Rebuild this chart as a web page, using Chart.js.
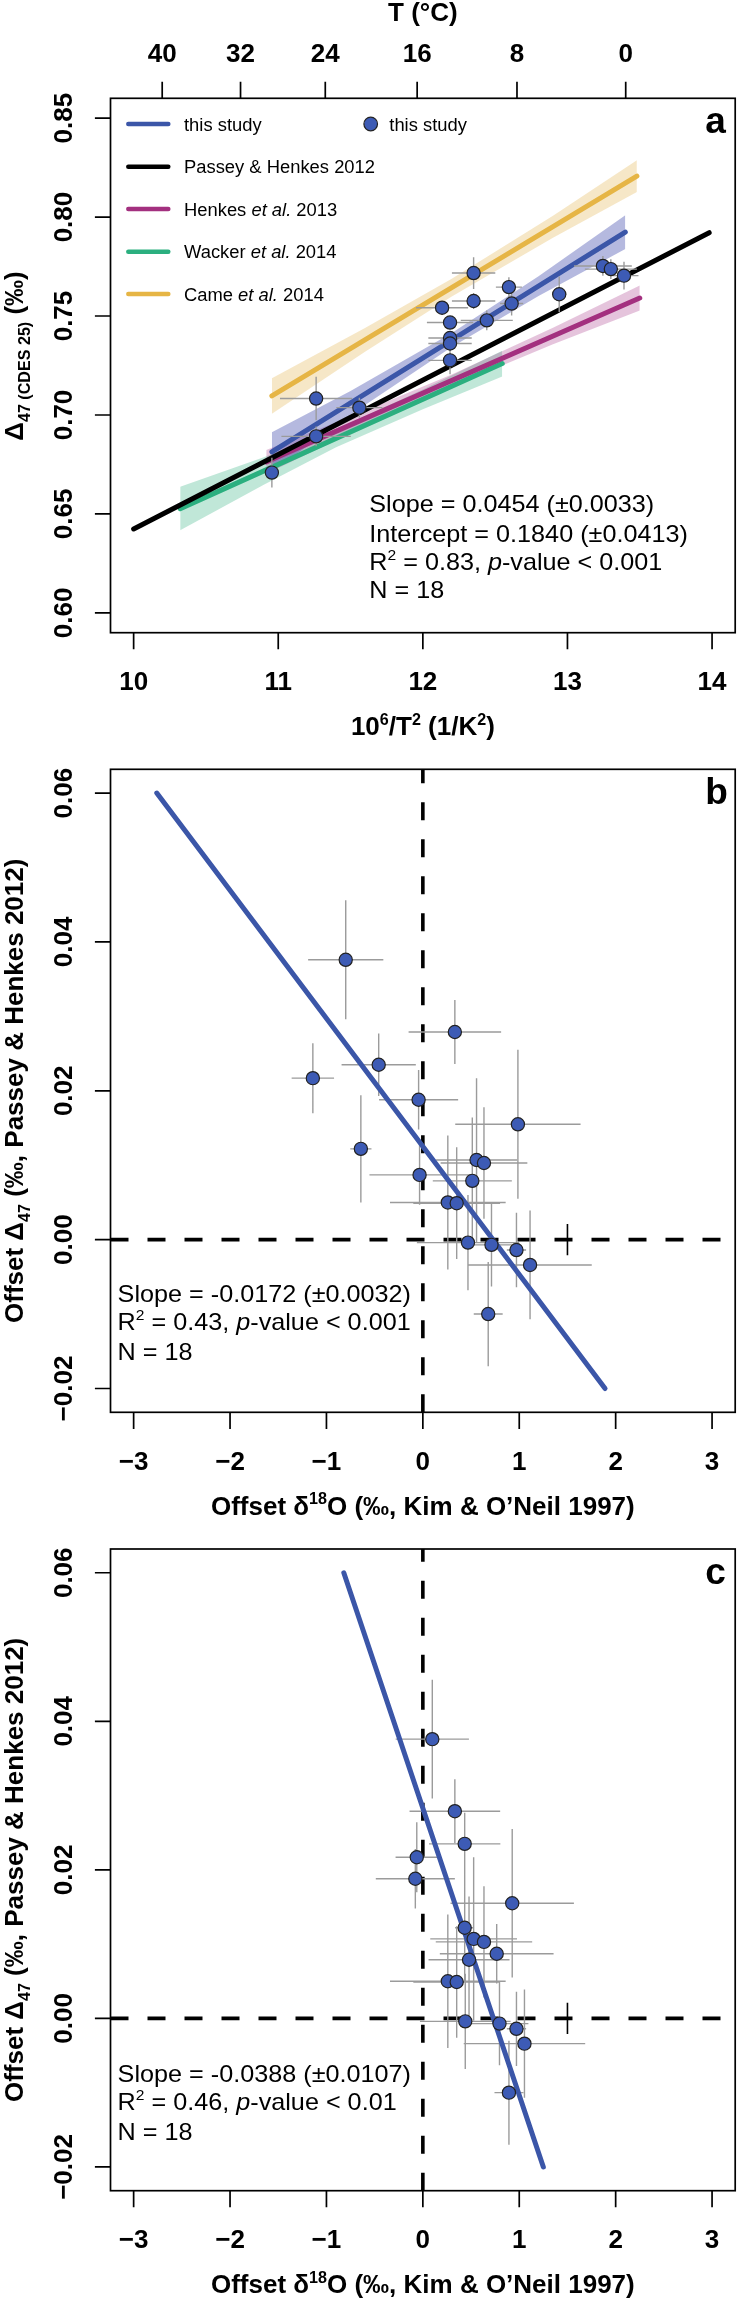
<!DOCTYPE html>
<html>
<head>
<meta charset="utf-8">
<script src="https://cdn.jsdelivr.net/npm/chart.js@4.4.0/dist/chart.umd.min.js"></script>
<style>
  html, body { margin: 0; padding: 0; background: #fff; }
  #wrap { position: relative; width: 743px; height: 2300px; }
  canvas { position: absolute; left: 0; }
</style>
</head>
<body>
<div id="wrap">
  <canvas id="panelA" width="743" height="760" style="top:0px"></canvas>
  <canvas id="panelB" width="743" height="760" style="top:760px"></canvas>
  <canvas id="panelC" width="743" height="780" style="top:1520px"></canvas>
</div>
<script>
// ---- tick labels ----
var tempTicks = [40, 32, 24, 16, 8, 0];
var invTTicks = [10, 11, 12, 13, 14];
var d47Ticks = [0.60, 0.65, 0.70, 0.75, 0.80, 0.85];
var offsetXTicks = [-3, -2, -1, 0, 1, 2, 3];
var offsetYTicks = [-0.02, 0.00, 0.02, 0.04, 0.06];

// ---- panel a: this study samples ----
var invT2 = [12.351, 12.595, 12.351, 12.614, 12.943, 13.245, 13.300, 13.391, 12.133, 12.188, 12.442, 12.188, 12.188, 12.188, 11.262, 11.561, 11.262, 10.956];
var d47 = [0.7717, 0.7646, 0.7576, 0.7563, 0.7610, 0.7753, 0.7737, 0.7704, 0.7542, 0.7467, 0.7478, 0.7389, 0.7361, 0.7276, 0.7083, 0.7037, 0.6892, 0.6709];
var invT2Err = [0.15, 0.09, 0.15, 0.08, 0.05, 0.20, 0.18, 0.10, 0.18, 0.16, 0.18, 0.15, 0.15, 0.15, 0.25, 0.16, 0.24, 0.02];
var d47Err = [0.008, 0.005, 0.004, 0.006, 0.009, 0.005, 0.005, 0.007, 0.003, 0.003, 0.005, 0.003, 0.003, 0.007, 0.011, 0.005, 0.005, 0.0075];

// ---- panel a: calibration lines ----
var studyLineX = [10.956, 13.40],  studyLineY = [0.6813, 0.7924];
var passeyLineX = [10.0, 13.98],   passeyLineY = [0.6424, 0.7921];
var henkesLineX = [10.917, 13.50], henkesLineY = [0.6763, 0.7591];
var wackerLineX = [10.322, 12.549], wackerLineY = [0.6527, 0.7260];
var cameLineX = [10.956, 13.48],   cameLineY = [0.7096, 0.8207];

// ---- panel a: confidence bands ----
var studyBandX = [10.956, 11.5, 12.2, 12.8, 13.40];
var studyBandHi = [0.6913, 0.7121, 0.7414, 0.7701, 0.8009];
var studyBandLo = [0.6713, 0.7001, 0.7344, 0.7601, 0.7839];
var cameBandX = [10.956, 11.6, 12.2, 12.9, 13.48];
var cameBandHi = [0.7186, 0.7439, 0.7688, 0.8006, 0.8287];
var cameBandLo = [0.7006, 0.7319, 0.7598, 0.7896, 0.8127];
var henkesBandX = [10.917, 11.6, 12.2, 12.9, 13.50];
var henkesBandHi = [0.6823, 0.7022, 0.7204, 0.7441, 0.7654];
var henkesBandLo = [0.6703, 0.6942, 0.7144, 0.7357, 0.7528];
var wackerBandX = [10.322, 10.9, 11.4, 12.0, 12.549];
var wackerBandHi = [0.6637, 0.6787, 0.6927, 0.7129, 0.7325];
var wackerBandLo = [0.6417, 0.6647, 0.6837, 0.7029, 0.7195];

// ---- panels b, c: offsets ----
var offD47 = [0.0376, 0.0279, 0.0235, 0.0217, 0.0188, 0.0155, 0.0122, 0.0107, 0.0103, 0.0087, 0.0079, 0.0050, 0.0049, -0.0004, -0.0007, -0.0014, -0.0034, -0.0100];
var offD47Err = [0.008, 0.0043, 0.0042, 0.0047, 0.004, 0.010, 0.0072, 0.011, 0.0075, 0.004, 0.0085, 0.009, 0.0075, 0.0064, 0.0056, 0.005, 0.0073, 0.007];
var offD18OB = [-0.80, 0.332, -0.458, -1.141, -0.044, 0.986, -0.643, 0.557, 0.634, -0.034, 0.513, 0.259, 0.351, 0.468, 0.712, 0.971, 1.112, 0.678];
var offD18OBErr = [0.39, 0.48, 0.385, 0.22, 0.41, 0.65, 0.11, 0.42, 0.45, 0.52, 0.41, 0.60, 0.45, 0.53, 0.30, 0.10, 0.64, 0.15];
var offD18OC = [0.098, 0.332, 0.434, -0.063, -0.078, 0.927, 0.434, 0.527, 0.634, 0.766, 0.479, 0.259, 0.351, 0.440, 0.795, 0.971, 1.054, 0.893];
var offD18OCErr = [0.38, 0.47, 0.37, 0.22, 0.41, 0.64, 0.10, 0.45, 0.50, 0.59, 0.42, 0.60, 0.45, 0.47, 0.30, 0.10, 0.63, 0.15];
var fitBX = [-2.76, 1.89], fitBY = [0.06, -0.02];
var fitCX = [-0.82, 1.25], fitCY = [0.06, -0.02];
var typErrX = [1.5, 1.5], typErrY = [-0.0021, 0.0021];

var FONT = '"Liberation Sans", Arial, Helvetica, sans-serif';
var BLUE = '#3B56A8', PT_FILL = '#3D5BB5', MAGENTA = '#A3307F', GREEN = '#2BAF7F', GOLD = '#E6B545';

function pts(xs, ys) { return xs.map(function (x, i) { return { x: x, y: ys[i] }; }); }
function sup(t, s) { return { t: t, size: s * 0.62, dy: -s * 0.4 }; }
function sub(t, s) { return { t: t, size: s * 0.62, dy: s * 0.28 }; }

function segFont(s, o) {
  var bold = s.bold !== undefined ? s.bold : o.bold;
  return (s.italic ? 'italic ' : '') + (bold ? 'bold ' : '') + (s.size || o.size) + 'px ' + FONT;
}

function drawRich(ctx, segs, x, y, o) {
  ctx.save();
  ctx.translate(x, y);
  if (o.rotate) ctx.rotate(-Math.PI / 2);
  ctx.scale(o.stretch || 1, 1);
  ctx.textBaseline = 'alphabetic';
  ctx.textAlign = 'left';
  ctx.fillStyle = '#000';
  var w = segs.map(function (s) { ctx.font = segFont(s, o); return ctx.measureText(s.t).width; });
  var total = w.reduce(function (a, b) { return a + b; }, 0);
  var cx = o.align === 'center' ? -total / 2 : 0;
  segs.forEach(function (s, i) {
    ctx.font = segFont(s, o);
    ctx.fillText(s.t, cx, s.dy || 0);
    cx += w[i];
  });
  ctx.restore();
}

function fmt(v, d) { var s = v.toFixed(d); return v < 0 ? '\u2212' + s.slice(1) : s; }

function drawErrorBars(chart, e) {
  var ctx = chart.ctx, xs = chart.scales.x, ys = chart.scales.y;
  ctx.save();
  ctx.strokeStyle = '#9b9b9b';
  ctx.lineWidth = 1.4;
  ctx.beginPath();
  for (var i = 0; i < e.x.length; i++) {
    var px = xs.getPixelForValue(e.x[i]), py = ys.getPixelForValue(e.y[i]);
    ctx.moveTo(xs.getPixelForValue(e.x[i] - e.xe[i]), py);
    ctx.lineTo(xs.getPixelForValue(e.x[i] + e.xe[i]), py);
    ctx.moveTo(px, ys.getPixelForValue(e.y[i] - e.ye[i]));
    ctx.lineTo(px, ys.getPixelForValue(e.y[i] + e.ye[i]));
  }
  ctx.stroke();
  ctx.restore();
}

function framePlugin(cfg) {
  return {
    id: 'frame' + cfg.letter,
    beforeDatasetDraw: function (chart, args) {
      if (args.index === cfg.errBefore) drawErrorBars(chart, cfg.err);
    },
    afterDraw: function (chart) {
      var ctx = chart.ctx, ca = chart.chartArea, xs = chart.scales.x, ys = chart.scales.y;
      var tick = { size: 26, bold: true, align: 'center' };
      ctx.save();
      ctx.strokeStyle = '#000';
      ctx.lineWidth = 1.7;
      ctx.strokeRect(ca.left, ca.top, ca.right - ca.left, ca.bottom - ca.top);
      ctx.beginPath();
      cfg.xTicks.forEach(function (v) {
        var p = xs.getPixelForValue(v);
        ctx.moveTo(p, ca.bottom); ctx.lineTo(p, ca.bottom + 16.6);
      });
      cfg.yTicks.forEach(function (v) {
        var p = ys.getPixelForValue(v);
        ctx.moveTo(ca.left - 15.6, p); ctx.lineTo(ca.left, p);
      });
      if (cfg.topTicks) {
        cfg.topTicks.forEach(function (t) {
          var p = xs.getPixelForValue(1e6 / Math.pow(t + 273.15, 2));
          ctx.moveTo(p, ca.top - 16.6); ctx.lineTo(p, ca.top);
        });
      }
      ctx.stroke();
      ctx.restore();

      cfg.xTicks.forEach(function (v) {
        drawRich(ctx, [{ t: fmt(v, cfg.xDec) }], xs.getPixelForValue(v), ca.bottom + 57.3, tick);
      });
      cfg.yTicks.forEach(function (v) {
        drawRich(ctx, [{ t: fmt(v, 2) }], 71.7, ys.getPixelForValue(v), Object.assign({ rotate: true }, tick));
      });
      if (cfg.topTicks) {
        cfg.topTicks.forEach(function (t) {
          drawRich(ctx, [{ t: String(t) }], xs.getPixelForValue(1e6 / Math.pow(t + 273.15, 2)), 61.7, tick);
        });
        drawRich(ctx, [{ t: 'T (\u00B0C)' }], (ca.left + ca.right) / 2, 20.7, tick);
      }
      drawRich(ctx, cfg.xTitle, (ca.left + ca.right) / 2, ca.bottom + 102.5, { size: 26, bold: true, align: 'center' });
      drawRich(ctx, cfg.yTitle, 23, cfg.yTitleY, { size: 26, bold: true, align: 'center', rotate: true });
      drawRich(ctx, [{ t: cfg.letter }], ca.right - 30, ca.top + 35, { size: 37, bold: true });

      cfg.stats.forEach(function (line, i) {
        drawRich(ctx, line, cfg.statsX, cfg.statsY[i], { size: 24, stretch: 1.05 });
      });

      if (cfg.legend) {
        ctx.save();
        ctx.lineCap = 'round';
        ctx.lineWidth = 4.5;
        cfg.legend.forEach(function (it) {
          ctx.strokeStyle = it.color;
          ctx.beginPath(); ctx.moveTo(128.3, it.y); ctx.lineTo(168.3, it.y); ctx.stroke();
          drawRich(ctx, it.label, 184, it.y + 6.5, { size: 17.5, stretch: 1.05 });
        });
        ctx.beginPath();
        ctx.arc(370.7, 124, 6.8, 0, Math.PI * 2);
        ctx.fillStyle = PT_FILL; ctx.fill();
        ctx.lineWidth = 1.2; ctx.strokeStyle = '#222'; ctx.stroke();
        ctx.restore();
        drawRich(ctx, [{ t: 'this study' }], 389.3, 130.5, { size: 17.5, stretch: 1.05 });
      }
    }
  };
}

function lineDs(xs, ys, color, width, order, extra) {
  return Object.assign({
    type: 'line', data: pts(xs, ys), borderColor: color, borderWidth: width,
    pointRadius: 0, borderCapStyle: 'round', fill: false, order: order, tension: 0
  }, extra || {});
}
function bandDs(xs, hi, lo, color) {
  return [
    { type: 'line', data: pts(xs, hi), borderColor: 'transparent', borderWidth: 0, pointRadius: 0, fill: '+1', backgroundColor: color, order: 6, tension: 0 },
    { type: 'line', data: pts(xs, lo), borderColor: 'transparent', borderWidth: 0, pointRadius: 0, fill: false, order: 6, tension: 0 }
  ];
}
function pointDs(xs, ys) {
  return {
    type: 'scatter', data: pts(xs, ys), pointRadius: 6.6, pointBackgroundColor: PT_FILL,
    pointBorderColor: '#222', pointBorderWidth: 1.2, order: 0
  };
}
function baseOptions(pad, xr, yr) {
  return {
    responsive: false, animation: false, events: [],
    layout: { padding: pad },
    plugins: { legend: { display: false }, tooltip: { enabled: false } },
    scales: {
      x: { type: 'linear', min: xr[0], max: xr[1], display: false },
      y: { type: 'linear', min: yr[0], max: yr[1], display: false }
    }
  };
}

// ---- panel a ----
var dsA = [
  pointDs(invT2, d47),
  lineDs(passeyLineX, passeyLineY, '#000', 5, 2),
  lineDs(studyLineX, studyLineY, BLUE, 5, 3),
  lineDs(henkesLineX, henkesLineY, MAGENTA, 5, 3),
  lineDs(wackerLineX, wackerLineY, GREEN, 5, 3),
  lineDs(cameLineX, cameLineY, GOLD, 5, 3)
].concat(
  bandDs(studyBandX, studyBandHi, studyBandLo, 'rgba(70,80,175,0.40)'),
  bandDs(cameBandX, cameBandHi, cameBandLo, 'rgba(228,180,80,0.32)'),
  bandDs(henkesBandX, henkesBandHi, henkesBandLo, 'rgba(170,60,140,0.30)'),
  bandDs(wackerBandX, wackerBandHi, wackerBandLo, 'rgba(45,175,125,0.30)')
);

new Chart(document.getElementById('panelA'), {
  type: 'scatter',
  data: { datasets: dsA },
  options: baseOptions({ left: 110.5, right: 1.5, top: 98.3, bottom: 127.3 }, [9.84, 14.16], [0.59, 0.86]),
  plugins: [framePlugin({
    letter: 'a', errBefore: 0,
    err: { x: invT2, y: d47, xe: invT2Err, ye: d47Err },
    xTicks: invTTicks, xDec: 0, yTicks: d47Ticks, topTicks: tempTicks,
    xTitle: [{ t: '10' }, sup('6', 26), { t: '/T' }, sup('2', 26), { t: ' (1/K' }, sup('2', 26), { t: ')' }],
    yTitle: [{ t: '\u0394' }, sub('47 (CDES 25)', 26), { t: ' (\u2030)' }],
    yTitleY: 356,
    statsX: 369.3, statsY: [511.7, 541.7, 570, 598.3],
    stats: [
      [{ t: 'Slope = 0.0454 (\u00B10.0033)' }],
      [{ t: 'Intercept = 0.1840 (\u00B10.0413)' }],
      [{ t: 'R' }, sup('2', 24), { t: ' = 0.83, ' }, { t: 'p', italic: true }, { t: '-value < 0.001' }],
      [{ t: 'N = 18' }]
    ],
    legend: [
      { y: 124, color: BLUE, label: [{ t: 'this study' }] },
      { y: 166.7, color: '#000', label: [{ t: 'Passey & Henkes 2012' }] },
      { y: 209, color: MAGENTA, label: [{ t: 'Henkes ' }, { t: 'et al.', italic: true }, { t: ' 2013' }] },
      { y: 251.7, color: GREEN, label: [{ t: 'Wacker ' }, { t: 'et al.', italic: true }, { t: ' 2014' }] },
      { y: 294, color: GOLD, label: [{ t: 'Came ' }, { t: 'et al.', italic: true }, { t: ' 2014' }] }
    ]
  })]
});

// ---- panels b and c ----
function offsetPanel(id, xs, xe, fitX, fitY, pad, cfg) {
  var ds = [
    pointDs(xs, offD47),
    lineDs(fitX, fitY, BLUE, 5, 1),
    lineDs([-3.24, 3.24], [0, 0], '#000', 3.6, 4, { borderDash: [18, 19], borderCapStyle: 'butt' }),
    lineDs([0, 0], [-0.0232, 0.0632], '#000', 3.6, 4, { borderDash: [18, 19], borderCapStyle: 'butt' }),
    lineDs(typErrX, typErrY, '#000', 1.6, 3, { borderCapStyle: 'butt' })
  ];
  cfg.errBefore = 1;
  cfg.err = { x: xs, y: offD47, xe: xe, ye: offD47Err };
  cfg.xTicks = offsetXTicks; cfg.xDec = 0; cfg.yTicks = offsetYTicks;
  cfg.xTitle = [{ t: 'Offset \u03B4' }, sup('18', 26), { t: 'O (\u2030, Kim & O\u2019Neil 1997)' }];
  cfg.yTitle = [{ t: 'Offset \u0394' }, sub('47', 26), { t: ' (\u2030, Passey & Henkes 2012)' }];
  new Chart(document.getElementById(id), {
    type: 'scatter',
    data: { datasets: ds },
    options: baseOptions(pad, [-3.24, 3.24], [-0.0232, 0.0632]),
    plugins: [framePlugin(cfg)]
  });
}

offsetPanel('panelB', offD18OB, offD18OBErr, fitBX, fitBY,
  { left: 110.5, right: 1.5, top: 9.3, bottom: 107.7 }, {
    letter: 'b', yTitleY: 330.8, statsX: 117.6, statsY: [541.7, 570, 600],
    stats: [
      [{ t: 'Slope = -0.0172 (\u00B10.0032)' }],
      [{ t: 'R' }, sup('2', 24), { t: ' = 0.43, ' }, { t: 'p', italic: true }, { t: '-value < 0.001' }],
      [{ t: 'N = 18' }]
    ]
  });

offsetPanel('panelC', offD18OC, offD18OCErr, fitCX, fitCY,
  { left: 110.5, right: 1.5, top: 29, bottom: 109.3 }, {
    letter: 'c', yTitleY: 349.9, statsX: 117.6, statsY: [561.7, 590, 620],
    stats: [
      [{ t: 'Slope = -0.0388 (\u00B10.0107)' }],
      [{ t: 'R' }, sup('2', 24), { t: ' = 0.46, ' }, { t: 'p', italic: true }, { t: '-value < 0.01' }],
      [{ t: 'N = 18' }]
    ]
  });
</script>
</body>
</html>
